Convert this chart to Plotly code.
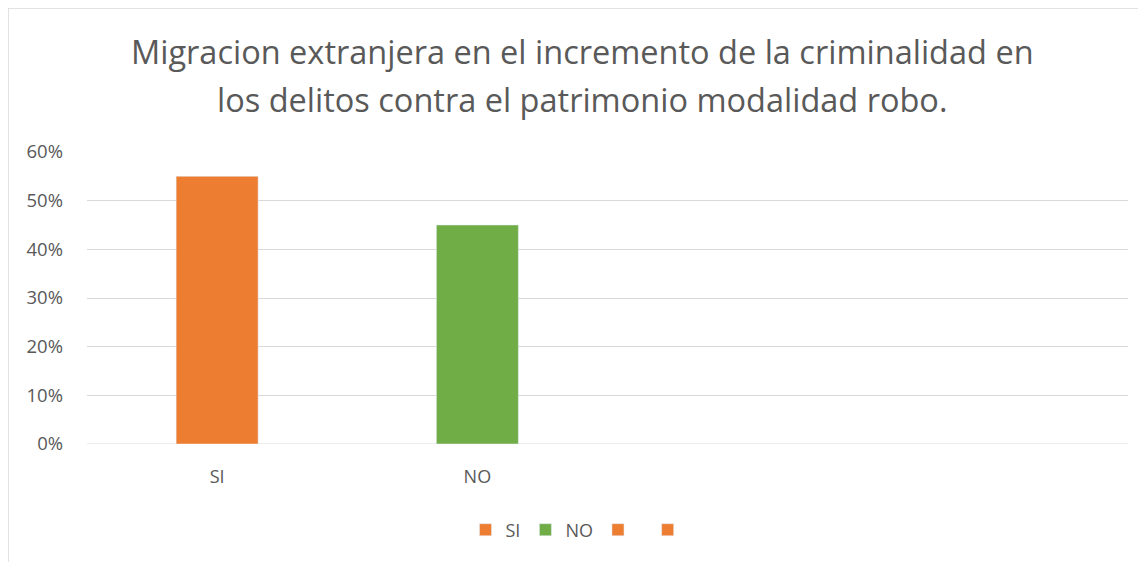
import plotly.graph_objects as go

categorias = ["SI", "NO", " ", "  "]
nombres = ["SI", "NO", " ", "  "]
valores = [0.55, 0.45, None, None]
colores = ["#ED7D31", "#70AD47", "#ED7D31", "#ED7D31"]
titulo = [
    "Migracion extranjera en el incremento de la criminalidad en",
    "los delitos contra el patrimonio modalidad robo.",
]

# page places the figure at (8, 8); work in screen coords and shift
OFF = 8
W, H = 1146 - OFF, 562 - OFF
L, T = 87 - OFF, 152 - OFF
R, B = W - (1128 - OFF), H - (444 - OFF)
pw, ph = W - L - R, H - T - B


def px(x):
    return (x - OFF - L) / pw


def py(y):
    return (H - B - (y - OFF)) / ph


fig = go.Figure()
for cat, nom, val, col in zip(categorias, nombres, valores, colores):
    fig.add_trace(go.Bar(
        x=[cat],
        y=[val],
        name=nom,
        marker_color=col,
        width=0.315,
    ))

gris = "#595959"
fig.update_layout(
    width=W, height=H,
    margin=dict(l=L, r=R, t=T, b=B),
    paper_bgcolor="white",
    plot_bgcolor="white",
    barmode="overlay",
    font=dict(family="Open Sans", color=gris),
    showlegend=True,
    legend=dict(
        orientation="h",
        x=px(584), xanchor="center",
        y=py(530), yanchor="middle",
        font=dict(size=18, color=gris),
        itemwidth=30,
        tracegroupgap=0,
    ),
    xaxis=dict(
        type="category",
        categoryorder="array",
        categoryarray=categorias,
        showgrid=False,
        showline=False,
        ticks="",
        tickfont=dict(size=18, color=gris),
        ticklabelstandoff=20,
    ),
    yaxis=dict(
        range=[0, 0.6],
        dtick=0.1,
        tickformat=".0%",
        gridcolor="#D9D9D9",
        gridwidth=1,
        zeroline=False,
        showline=False,
        tickfont=dict(size=18.5, color=gris),
        ticklabelstandoff=23,
    ),
)

# grid line at 0 drawn as the baseline
fig.add_shape(type="line", xref="paper", yref="y", x0=0, x1=1, y0=0, y1=0,
              line=dict(color="#D9D9D9", width=1), layer="below")

for i, linea in enumerate(titulo):
    fig.add_annotation(
        text=linea, xref="paper", yref="paper",
        x=px(582), y=py(52 + 47 * i),
        xanchor="center", yanchor="middle",
        showarrow=False,
        font=dict(size=32.5, color=gris, family="Open Sans"),
    )

# chart area border
fig.add_shape(type="line", xref="paper", yref="paper",
              x0=px(OFF), x1=px(1150), y0=py(OFF), y1=py(OFF),
              line=dict(color="#D9D9D9", width=1.5))
fig.add_shape(type="line", xref="paper", yref="paper",
              x0=px(OFF), x1=px(OFF), y0=py(OFF), y1=py(566),
              line=dict(color="#D9D9D9", width=1.5))

fig.write_html("out.html")
